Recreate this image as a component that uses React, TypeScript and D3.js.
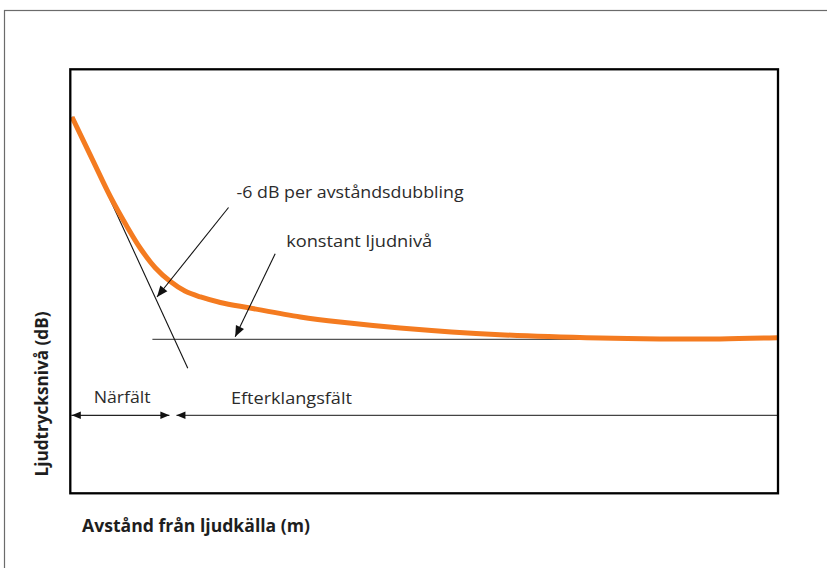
import React from "react";
import * as d3 from "d3";

// Sound pressure level curve (distance units 0-100, level units 0-100, arbitrary)
const curveDistance = [0.24, 3.25, 5.65, 7.91, 9.89, 12.0, 14.1, 16.2, 18.4, 21.2, 25.4, 32.5, 38.1, 46.6, 60.7, 74.9, 83.3, 91.8, 99.9];
const curveLevel = [88.75, 78.3, 70.0, 63.2, 57.8, 53.2, 50.0, 47.7, 46.3, 45.0, 43.7, 41.6, 40.4, 39.0, 37.4, 36.6, 36.4, 36.4, 36.7];

// -6 dB per doubling reference line
const slopeDistance = [0.24, 16.6];
const slopeLevel = [88.8, 29.5];

// constant reverberant level
const constantLevel = 36.3;
const constantStart = 11.6;

// near field / reverberant field boundary
const fieldRowLevel = 18.4;
const nearFieldEnd = 14.0;
const farFieldStart = 15.0;

const labels = {
  slope: "-6 dB per avståndsdubbling",
  constant: "konstant ljudnivå",
  near: "Närfält",
  far: "Efterklangsfält",
  xAxis: "Avstånd från ljudkälla (m)",
  yAxis: "Ljudtrycksnivå (dB)",
};

// annotation anchors in data units: [fromX, fromY, toX, toY]
const slopeArrow = [22.36, 67.4, 12.25, 46.3];
const constantArrow = [28.95, 56.5, 23.3, 36.9];
const slopeLabelPos = [23.5, 69.6];
const constantLabelPos = [30.5, 58.0];
const nearLabelPos = [3.3, 21.2];
const farLabelPos = [22.7, 21.0];

const W = 827;
const H = 568;
const frame = { left: 70.3, top: 69.3, right: 778, bottom: 493.3 };

const FONT = "'Open Sans', 'DejaVu Sans', sans-serif";

function arrowHead(x1: number, y1: number, x2: number, y2: number, len = 9, half = 3.6) {
  const dx = x2 - x1;
  const dy = y2 - y1;
  const d = Math.hypot(dx, dy);
  const ux = dx / d;
  const uy = dy / d;
  const bx = x2 - ux * len;
  const by = y2 - uy * len;
  const px = -uy * half;
  const py = ux * half;
  return `M${x2},${y2}L${bx + px},${by + py}L${bx - px},${by - py}Z`;
}

export default function App() {
  const x = d3.scaleLinear().domain([0, 100]).range([frame.left, frame.right]);
  const y = d3.scaleLinear().domain([0, 100]).range([frame.bottom, frame.top]);

  const curvePts: [number, number][] = curveDistance.map((d, i) => [d, curveLevel[i]]);
  const line = d3
    .line<[number, number]>()
    .x((d) => x(d[0]))
    .y((d) => y(d[1]))
    .curve(d3.curveCatmullRom.alpha(0.5));

  const a1 = slopeArrow.map((v, i) => (i % 2 === 0 ? x(v) : y(v)));
  const a2 = constantArrow.map((v, i) => (i % 2 === 0 ? x(v) : y(v)));
  const rowY = y(fieldRowLevel);

  const textStyle = { fontFamily: FONT, fontSize: 16, fill: "#2b2b2b" } as const;

  return (
    <svg
      width={W}
      height={H}
      style={{ position: "absolute", left: 0, top: 0, background: "#fff" }}
    >
      <rect x={4.5} y={10.5} width={1000} height={1000} fill="none" stroke="#6b6b6b" strokeWidth={1.2} />

      {/* constant level line */}
      <line
        x1={x(constantStart)}
        x2={x(100)}
        y1={y(constantLevel)}
        y2={y(constantLevel)}
        stroke="#555"
        strokeWidth={1.4}
      />

      {/* -6 dB slope */}
      <line
        x1={x(slopeDistance[0])}
        y1={y(slopeLevel[0])}
        x2={x(slopeDistance[1])}
        y2={y(slopeLevel[1])}
        stroke="#111"
        strokeWidth={1.1}
      />

      {/* curve */}
      <path d={line(curvePts) || ""} fill="none" stroke="#F47B20" strokeWidth={5} />

      {/* annotation arrows */}
      <line x1={a1[0]} y1={a1[1]} x2={a1[2]} y2={a1[3]} stroke="#111" strokeWidth={1.1} />
      <path d={arrowHead(a1[0], a1[1], a1[2], a1[3], 11, 4.5)} fill="#111" />
      <line x1={a2[0]} y1={a2[1]} x2={a2[2]} y2={a2[3]} stroke="#111" strokeWidth={1.1} />
      <path d={arrowHead(a2[0], a2[1], a2[2], a2[3], 11, 4.5)} fill="#111" />

      {/* field arrows */}
      <line x1={x(0) + 1} x2={x(nearFieldEnd)} y1={rowY} y2={rowY} stroke="#222" strokeWidth={1.3} />
      <path d={arrowHead(x(nearFieldEnd), rowY, x(0) + 1.5, rowY, 9, 3.8)} fill="#111" />
      <path d={arrowHead(x(0) + 10, rowY, x(nearFieldEnd), rowY, 9, 3.8)} fill="#111" />
      <line x1={x(farFieldStart)} x2={x(100)} y1={rowY} y2={rowY} stroke="#444" strokeWidth={1.3} />
      <path d={arrowHead(x(farFieldStart) + 10, rowY, x(farFieldStart), rowY, 9, 3.8)} fill="#111" />

      {/* labels */}
      <text x={x(slopeLabelPos[0])} y={y(slopeLabelPos[1])} {...textStyle} textLength={227} lengthAdjust="spacingAndGlyphs">
        {labels.slope}
      </text>
      <text x={x(constantLabelPos[0])} y={y(constantLabelPos[1])} {...textStyle} textLength={146} lengthAdjust="spacingAndGlyphs">
        {labels.constant}
      </text>
      <text x={x(nearLabelPos[0])} y={y(nearLabelPos[1])} {...textStyle} textLength={57} lengthAdjust="spacingAndGlyphs">
        {labels.near}
      </text>
      <text x={x(farLabelPos[0])} y={y(farLabelPos[1])} {...textStyle} textLength={121} lengthAdjust="spacingAndGlyphs">
        {labels.far}
      </text>

      {/* frame */}
      <rect
        x={frame.left}
        y={frame.top}
        width={frame.right - frame.left}
        height={frame.bottom - frame.top}
        fill="none"
        stroke="#000"
        strokeWidth={2.3}
      />

      {/* axis titles */}
      <text
        x={82}
        y={531.7}
        fontFamily={FONT}
        fontSize={17.5}
        fontWeight={700}
        fill="#1e1e1e"
        textLength={228}
        lengthAdjust="spacingAndGlyphs"
      >
        {labels.xAxis}
      </text>
      <text
        transform="translate(47.5,394) rotate(-90)"
        textAnchor="middle"
        fontFamily={FONT}
        fontSize={17.5}
        fontWeight={700}
        fill="#1e1e1e"
        textLength={165}
        lengthAdjust="spacingAndGlyphs"
      >
        {labels.yAxis}
      </text>
    </svg>
  );
}
